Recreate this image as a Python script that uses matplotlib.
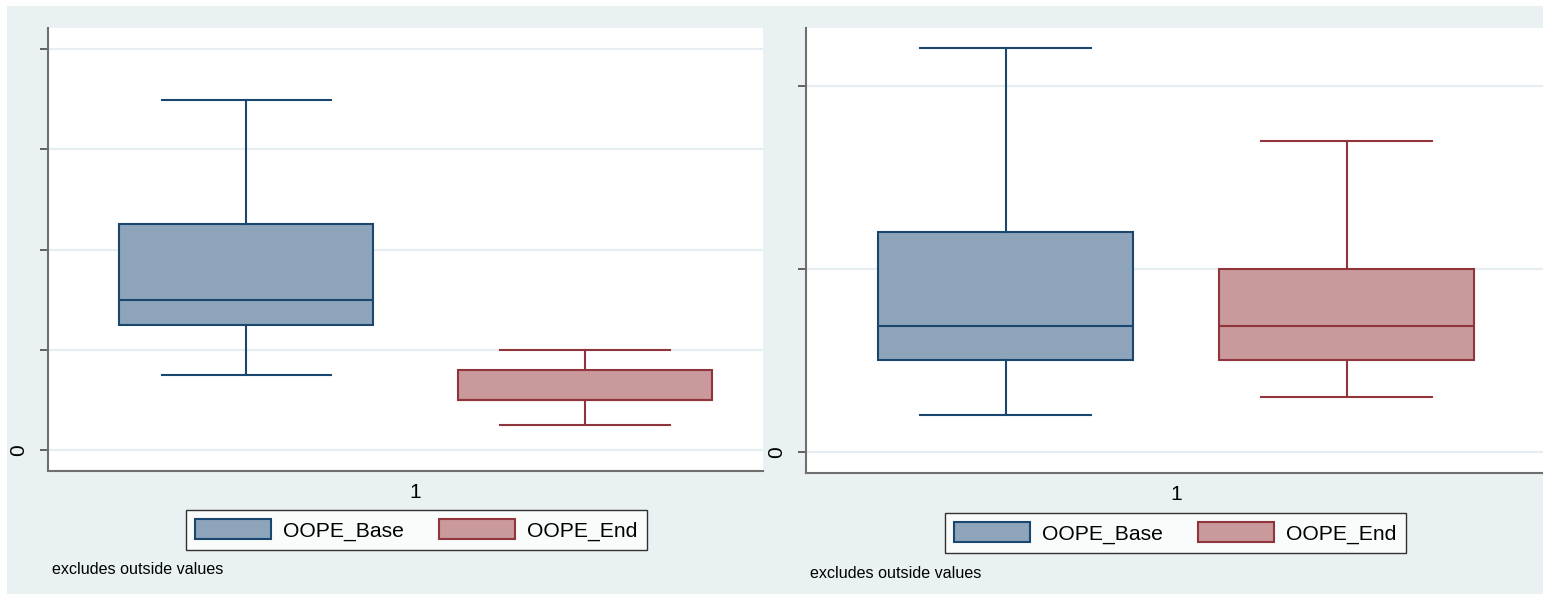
import matplotlib
matplotlib.use("Agg")
import matplotlib.pyplot as plt
from matplotlib.patches import Rectangle, Patch

plt.rcParams['font.family'] = ['Liberation Sans', 'DejaVu Sans']

# ---- data (in tick units) ----
series = ["OOPE_Base", "OOPE_End"]
category = "1"
note = "excludes outside values"

# left panel
left_base = [0.75, 1.25, 1.50, 2.25, 3.49]   # whislo, q1, med, q3, whishi
left_end = [0.25, 0.50, 0.50, 0.80, 1.00]
left_ticks = [0, 1, 2, 3, 4]
left_ticklabels = ["0", "", "", "", ""]

# right panel
right_base = [0.20, 0.50, 0.69, 1.20, 2.21]
right_end = [0.30, 0.50, 0.69, 1.00, 1.70]
right_ticks = [0, 1, 2]
right_ticklabels = ["0", "", ""]

# ---- style ----
W, H = 1543, 594
BG = "#e9f1f3"
GRID = "#e6eef1"
SPINE = "#6f6f6f"
fills = ["#8da4ba", "#c9999c"]
edges = ["#1a476f", "#90353b"]

fig = plt.figure(figsize=(W / 100, H / 100), dpi=100, facecolor="white")
fig.patches.append(Rectangle((7 / W, 0), (W - 7) / W, (H - 6) / H,
                             transform=fig.transFigure, facecolor=BG,
                             edgecolor="none", zorder=-10))


def to_stats(v):
    return dict(whislo=v[0], q1=v[1], med=v[2], q3=v[3], whishi=v[4], fliers=[])


def panel(rect_px, base, end, ticks, ticklabels, ylim, xlim, legend_center, note_xy):
    x0, y0, x1, y1 = rect_px
    ax = fig.add_axes([x0 / W, (H - y1) / H, (x1 - x0) / W, (y1 - y0) / H])
    ax.set_facecolor("white")
    for i, vals in enumerate([base, end]):
        ax.bxp([to_stats(vals)], positions=[i + 1], widths=0.75, capwidths=0.5,
               patch_artist=True, showfliers=False,
               boxprops=dict(facecolor=fills[i], edgecolor=edges[i], linewidth=1.5),
               medianprops=dict(color=edges[i], linewidth=1.5),
               whiskerprops=dict(color=edges[i], linewidth=1.5),
               capprops=dict(color=edges[i], linewidth=1.5),
               zorder=3)
    ax.set_xlim(*xlim)
    ax.set_ylim(*ylim)
    ax.set_yticks(ticks)
    ax.set_yticklabels(ticklabels, rotation=90, va="center", fontsize=15)
    ax.set_xticks([1.5])
    ax.set_xticklabels([category], fontsize=15)
    ax.tick_params(axis="x", length=0, pad=9)
    ax.tick_params(axis="y", length=6, width=1.3, color="#555555", pad=8)
    for t in ticks:
        ax.axhline(t, color=GRID, linewidth=1.6, zorder=1)
    for s in ["top", "right"]:
        ax.spines[s].set_visible(False)
    for s in ["left", "bottom"]:
        ax.spines[s].set_color(SPINE)
        ax.spines[s].set_linewidth(1.5)
    handles = [Patch(facecolor=fills[i], edgecolor=edges[i], linewidth=1.5, label=series[i])
               for i in range(2)]
    leg = fig.legend(handles=handles, loc="center",
                     bbox_to_anchor=(legend_center[0] / W, 1 - legend_center[1] / H),
                     ncol=2, fontsize=15.2, frameon=True, fancybox=False,
                     handlelength=3.6, handleheight=1.05, handletextpad=0.57,
                     columnspacing=1.67, borderpad=0.45)
    leg.get_frame().set_edgecolor("black")
    leg.get_frame().set_linewidth(1.0)
    leg.get_frame().set_facecolor("white")
    fig.text(note_xy[0] / W, 1 - note_xy[1] / H, note, fontsize=11.6,
             ha="left", va="center")
    return ax


panel((48, 28, 763, 471), left_base, left_end, left_ticks, left_ticklabels,
      ylim=(-0.21, 4.21), xlim=(0.414, 2.526), legend_center=(416.5, 530),
      note_xy=(52, 570))
panel((806, 28, 1543, 473), right_base, right_end, right_ticks, right_ticklabels,
      ylim=(-0.115, 2.317), xlim=(0.415, 2.576), legend_center=(1175.5, 533),
      note_xy=(810, 573))

fig.savefig("out.png", dpi=100, facecolor="white")
